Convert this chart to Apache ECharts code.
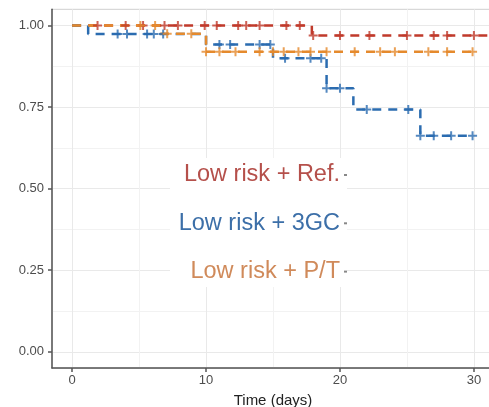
<!DOCTYPE html>
<html>
<head>
<meta charset="utf-8">
<script src="https://cdn.jsdelivr.net/npm/echarts@6/dist/echarts.min.js"></script>
<style>
  html, body { margin: 0; padding: 0; background: #fff; }
  #chart { width: 489px; height: 407px; }
</style>
</head>
<body>
<div id="chart"></div>
<script>
// Kaplan-Meier steps (time in days, survival)
const refTimes = [0, 17.9, 31.5];
const refSurv = [1, 0.97, 0.97];
const refCensor = [1.9, 4.0, 5.3, 6.9, 7.9, 9.9, 10.8, 12.4, 13.0, 14.0, 16.0, 17.0, 18.0, 20.0, 22.2, 25.0, 27.0, 28.0, 30.0];

const gcTimes = [0, 1.2, 10, 15, 19, 21, 26, 30];
const gcSurv = [1, 0.974, 0.942, 0.90, 0.808, 0.743, 0.662, 0.662];
const gcCensor = [3.4, 4.1, 5.6, 6.1, 6.8, 11.0, 11.8, 14.0, 14.8, 15.9, 17.8, 18.6, 19.0, 20.0, 22.0, 25.1, 26.0, 27.0, 28.3, 29.9];

const ptTimes = [0, 6.6, 10, 30];
const ptSurv = [1, 0.975, 0.92, 0.92];
const ptCensor = [5.1, 6.2, 7.1, 8.9, 10.0, 11.0, 12.2, 14.0, 15.0, 15.8, 16.9, 17.8, 19.0, 21.1, 23.0, 24.1, 26.6, 28.0, 29.9];

const groupNames = ['Low risk + Ref.', 'Low risk + 3GC', 'Low risk + P/T'];
const xMajor = [0, 10, 20, 30];
const xGrid = [0, 5, 10, 15, 20, 25, 30];
const yMajor = [0, 0.25, 0.5, 0.75, 1];
const yGrid = [0, 0.125, 0.25, 0.375, 0.5, 0.625, 0.75, 0.875, 1];

const colors = ['#c03a2b', '#2b6cb0', '#e58a2d'];
const textColors = ['#b5504b', '#3c6fa8', '#d08a5a'];

function stepAt(times, surv, t) {
    let v = surv[0];
    for (let i = 0; i < times.length; i++) {
        if (t >= times[i]) v = surv[i];
    }
    return v;
}

const plus = 'path://M3.5,0H5.5V3.5H9V5.5H5.5V9H3.5V5.5H0V3.5H3.5Z';

function curve(name, times, surv, color) {
    return {
        name: name,
        type: 'line',
        step: 'end',
        data: times.map((t, i) => [t, surv[i]]),
        showSymbol: false,
        silent: true,
        lineStyle: { color: color, width: 2.5, type: [9, 7] },
        z: 3
    };
}

function marks(name, times, surv, censor, color) {
    return {
        name: name,
        type: 'scatter',
        data: censor.map(t => [t, stepAt(times, surv, t)]),
        symbol: plus,
        symbolSize: 9,
        itemStyle: { color: color },
        silent: true,
        z: 4
    };
}

const font = 'Liberation Sans, Arial, sans-serif';

const chart = echarts.init(document.getElementById('chart'));
chart.setOption({
    animation: false,
    grid: {
        left: 52, top: 9.3, right: -5, bottom: 38.9,
        outerBoundsMode: 'none', containLabel: false,
        show: true, borderColor: '#cfcfcf', borderWidth: 1, backgroundColor: '#fff'
    },
    xAxis: [{
        type: 'value', min: -1.5, max: 31.5,
        axisLine: { show: true, onZero: false, lineStyle: { color: '#555', width: 1.5 } },
        axisTick: { show: false, customValues: xGrid },
        axisLabel: { show: false },
        splitLine: { show: true, lineStyle: { color: ['#e9e9e9', '#f2f2f2'], width: 1 } },
        name: 'Time (days)', nameLocation: 'middle', nameGap: 25,
        nameTextStyle: { fontFamily: font, fontSize: 15, color: '#222' }
    }, {
        type: 'value', min: -1.5, max: 31.5, position: 'bottom',
        axisLine: { show: false, onZero: false },
        axisTick: { show: true, customValues: xMajor, length: 4, lineStyle: { color: '#555', width: 1.5 } },
        axisLabel: { customValues: xMajor, margin: 6, fontFamily: font, fontSize: 13, color: '#4d4d4d' },
        splitLine: { show: false }
    }],
    yAxis: [{
        type: 'value', min: -0.05, max: 1.05,
        axisLine: { show: true, onZero: false, lineStyle: { color: '#555', width: 1.5 } },
        axisTick: { show: false, customValues: yGrid },
        axisLabel: { show: false },
        splitLine: { show: true, lineStyle: { color: ['#e9e9e9', '#f2f2f2'], width: 1 } }
    }, {
        type: 'value', min: -0.05, max: 1.05, position: 'left',
        axisLine: { show: false, onZero: false },
        axisTick: { show: true, customValues: yMajor, length: 4, lineStyle: { color: '#555', width: 1.5 } },
        axisLabel: {
            customValues: yMajor, margin: 8, fontFamily: font, fontSize: 13, color: '#4d4d4d',
            formatter: v => v.toFixed(2)
        },
        splitLine: { show: false }
    }],
    series: [
        curve(groupNames[0], refTimes, refSurv, colors[0]),
        curve(groupNames[1], gcTimes, gcSurv, colors[1]),
        curve(groupNames[2], ptTimes, ptSurv, colors[2]),
        marks(groupNames[0], refTimes, refSurv, refCensor, colors[0]),
        marks(groupNames[1], gcTimes, gcSurv, gcCensor, colors[1]),
        marks(groupNames[2], ptTimes, ptSurv, ptCensor, colors[2])
    ],
    graphic: [
        { type: 'rect', z: 100, shape: { x: 170, y: 158, width: 177, height: 129 }, style: { fill: '#fff' } },
        ...groupNames.map((n, i) => ({
            type: 'text', z: 101,
            style: {
                text: n, x: 340, y: 175 + i * 48.3, textAlign: 'right', textVerticalAlign: 'middle',
                fill: textColors[i], font: '23.5px ' + font
            }
        })),
        ...groupNames.map((n, i) => ({
            type: 'rect', z: 101,
            shape: { x: 344, y: 174 + i * 48.3, width: 3, height: 2 },
            style: { fill: '#888' }
        }))
    ]
});
</script>
</body>
</html>
